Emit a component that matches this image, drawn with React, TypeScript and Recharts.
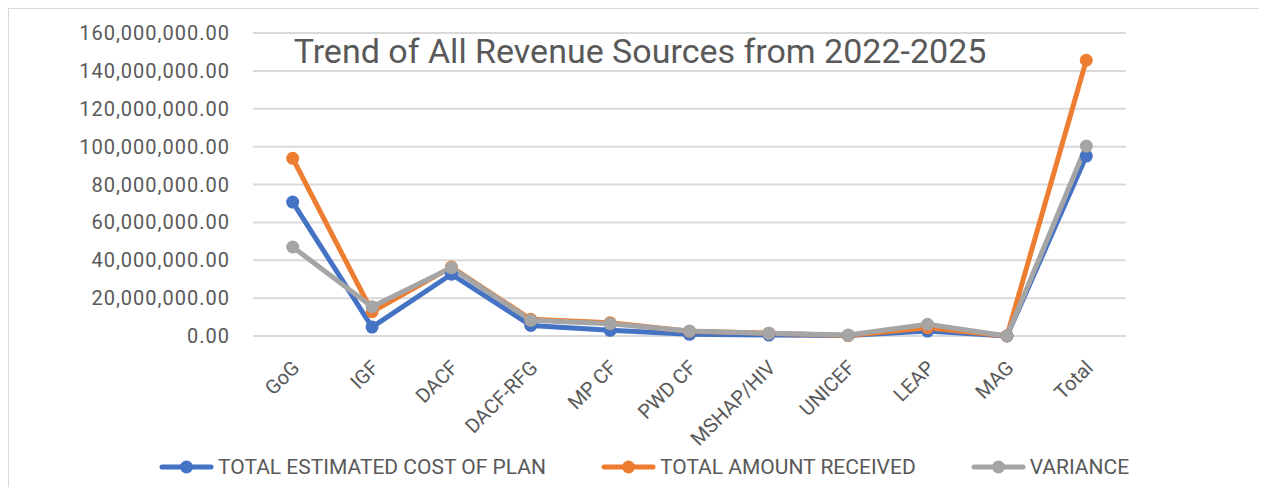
import React from 'react';
import { LineChart, Line, XAxis, YAxis, CartesianGrid } from 'recharts';

// revenue source categories and values
const categories = ['GoG', 'IGF', 'DACF', 'DACF-RFG', 'MP CF', 'PWD CF', 'MSHAP/HIV', 'UNICEF', 'LEAP', 'MAG', 'Total'];
const estimatedCost = [70700000, 4700000, 32600000, 5600000, 3000000, 900000, 500000, 300000, 2600000, 0, 95000000];
const amountReceived = [93800000, 12800000, 36400000, 8800000, 7000000, 2500000, 1500000, 300000, 4400000, 0, 145600000];
const variance = [47000000, 15500000, 36000000, 8300000, 6500000, 2600000, 1400000, 500000, 6200000, 0, 100300000];
const yTicks = [0, 20000000, 40000000, 60000000, 80000000, 100000000, 120000000, 140000000, 160000000];

const series = [
  { key: 'est', name: 'TOTAL ESTIMATED COST OF PLAN', color: '#4472C4', values: estimatedCost },
  { key: 'rec', name: 'TOTAL AMOUNT RECEIVED', color: '#ED7D31', values: amountReceived },
  { key: 'var', name: 'VARIANCE', color: '#A5A5A5', values: variance },
];

const data = categories.map((c, i) => {
  const row: Record<string, string | number> = { name: c };
  series.forEach((s) => (row[s.key] = s.values[i]));
  return row;
});

const FONT = 'Roboto, "Noto Sans", sans-serif';
const TEXT = '#595959';

const fmt = (v: number) =>
  v.toLocaleString('en-US', { minimumFractionDigits: 2, maximumFractionDigits: 2 });

const XTick = (props: any) => {
  const { x, y, payload } = props;
  return (
    <g transform={`translate(${x + 8},${y + 33})`}>
      <text textAnchor="end" transform="rotate(-45)" fill={TEXT} fontSize={20} fontFamily={FONT}>
        {payload.value}
      </text>
    </g>
  );
};

export default function App() {
  return (
    <div style={{ position: 'relative', width: 1270, height: 490, border: '1px solid #D9D9D9', boxSizing: 'border-box', background: '#fff', fontFamily: FONT }}>
      <div style={{ position: 'absolute', left: 0, top: 22, textAlign: 'center', width: 1262, fontSize: 34, color: TEXT, lineHeight: '40px' }}>
        Trend of All Revenue Sources from 2022-2025
      </div>
      <LineChart width={1259} height={479} data={data} margin={{ top: 24, right: 142, bottom: 0, left: 0 }}>
        <CartesianGrid vertical={false} stroke="#D9D9D9" strokeWidth={2} />
        <XAxis
          dataKey="name"
          height={152}
          padding={{ left: 39.7, right: 39.7 }}
          axisLine={false}
          tickLine={false}
          tickSize={0}
          tickMargin={0}
          interval={0}
          tick={<XTick />}
        />
        <YAxis
          width={244}
          domain={[0, 160000000]}
          ticks={yTicks}
          tickFormatter={fmt}
          axisLine={false}
          tickLine={false}
          tickSize={0}
          tickMargin={23}
          tick={{ fill: TEXT, fontSize: 20, fontFamily: FONT, letterSpacing: 1 }}
        />
        {series.map((s) => (
          <Line
            key={s.key}
            dataKey={s.key}
            name={s.name}
            stroke={s.color}
            strokeWidth={5}
            strokeLinecap="round"
            strokeLinejoin="round"
            dot={{ r: 6.5, fill: s.color, stroke: 'none' }}
            activeDot={false}
            isAnimationActive={false}
          />
        ))}
      </LineChart>
      <div style={{ position: 'absolute', left: 150, top: 446, display: 'flex', alignItems: 'center', gap: 55, height: 24 }}>
        {series.map((s) => (
          <div key={s.key} style={{ display: 'flex', alignItems: 'center' }}>
            <svg width={55} height={16} style={{ marginRight: 4 }}>
              <line x1={3} y1={8} x2={52} y2={8} stroke={s.color} strokeWidth={5} strokeLinecap="round" />
              <circle cx={27.5} cy={8} r={6.5} fill={s.color} />
            </svg>
            <span style={{ fontSize: 21, color: TEXT, lineHeight: '24px' }}>{s.name}</span>
          </div>
        ))}
      </div>
    </div>
  );
}
